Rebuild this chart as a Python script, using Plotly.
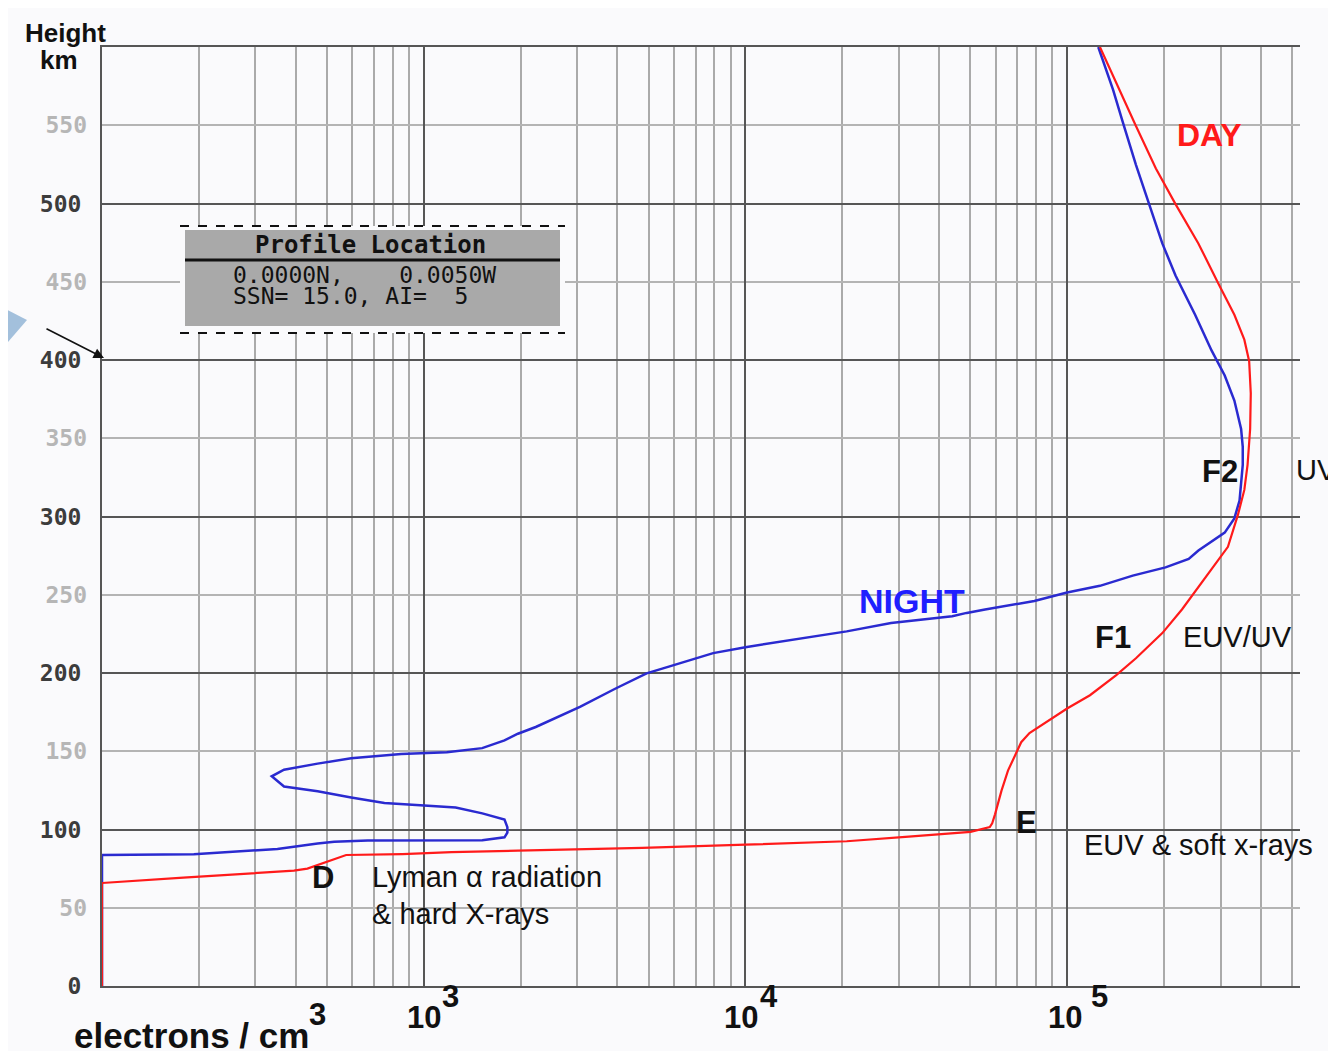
import math
import plotly.graph_objects as go

# ---------------- data ----------------
day_density = [100, 100, 179, 290, 395, 435, 503, 574, 859, 1220, 1963, 4780, 10000,
               20650, 32200, 50100, 57500, 58500, 59700, 62500, 65500, 68700, 72000,
               76400, 88900, 100000, 117800, 142200, 163700, 197700, 227500, 261800,
               294400, 316200, 339600, 355600, 363900, 370700, 372400, 368100, 355600,
               331100, 294400, 255900, 217300, 188800, 163700, 142200, 126500]
day_height = [0, 65.8, 69.2, 71.8, 73.7, 75, 79.7, 83.7, 84.3, 85.5, 86.5, 88.2, 90.3,
              92.5, 95.5, 98.5, 101.5, 104, 109.7, 124.7, 137.6, 147.2, 155.8,
              161.6, 170.2, 177.3, 185.8, 198.7, 209.4, 225.5, 240.6, 257.7,
              272.7, 280.6, 301, 317, 333, 355.9, 378.7, 399.2, 413,
              428.9, 449.4, 474.5, 499.6, 522.4, 549.5, 577.2, 600]

night_density = [100, 100, 193, 290, 351, 468, 527, 670, 1220, 1521, 1783, 1820, 1820,
                 1783, 1521, 1257, 975, 755, 595, 468, 368, 337, 368, 468, 595, 851,
                 1180, 1520, 1783, 1963, 2230, 3060, 3950, 4930, 5780, 7940, 10000,
                 15100, 20650, 28370, 43950, 48750, 55600, 79100, 100000, 126500,
                 160000, 202300, 238800, 256000, 309000, 331100, 343600, 351600,
                 351600, 347500, 331100, 309000, 281200, 250000, 217300, 197700,
                 179900, 163700, 148900, 139000, 125000]
night_height = [0, 83.7, 84.2, 86.3, 87.6, 91, 92.1, 92.9, 93.4, 93.2, 95, 98, 101.5,
                106.4, 110.3, 114, 115.5, 117, 120.5, 124.5, 127.5, 134, 138.2, 142.1,
                145.5, 148.2, 149.4, 152, 156.9, 161.2, 165.5, 178.3, 190.1, 199.8,
                204.1, 212.7, 216.5, 222.3, 226.6, 232, 236.3, 238.4, 240.6, 246,
                251.4, 255.7, 262.2, 267.5, 272.9, 278.3, 289.7, 298.8, 310.2, 333,
                344.5, 355.9, 374.1, 390.1, 406.1, 428.9, 454, 474.5, 499.6, 524.7,
                552.1, 572.6, 600]

height_major_ticks = [0, 100, 200, 300, 400, 500]
height_minor_ticks = [50, 150, 250, 350, 450, 550]
decade_ticks = [100, 1000, 10000, 100000]
decade_exponents = ["3", "4", "5"]
decade_label_values = [1000, 10000, 100000]

profile_title = "Profile Location"
profile_line1 = "0.0000N,    0.0050W"
profile_line2 = "SSN= 15.0, AI=  5"

# ---------------------------------------------------------------------------
minor_x = [m * d for d in [100, 1000, 10000, 100000] for m in range(2, 10) if m * d <= 500000]

BG = "#fafafc"
DARK_GRID = "#565656"
LIGHT_GRID = "#aaaaaa"
SANS = "Liberation Sans, Arial, sans-serif"
MONO = "DejaVu Sans Mono, monospace"

fig = go.Figure()
fig.add_trace(go.Scatter(x=night_density, y=night_height, mode="lines",
                         line=dict(color="#2a2ad0", width=2.5), yaxis="y", name="NIGHT"))
fig.add_trace(go.Scatter(x=day_density, y=day_height, mode="lines",
                         line=dict(color="#ff1a1a", width=2.2), yaxis="y2", name="DAY"))

# the page body has an 8px margin, so the figure is offset by 8px in the window
fig.update_layout(
    width=1328, height=1043, autosize=False,
    margin=dict(l=94, r=36, t=39, b=65, pad=0),
    paper_bgcolor=BG, plot_bgcolor=BG,
    showlegend=False,
    xaxis=dict(type="log", range=[2, 5.724], tickvals=decade_ticks, showticklabels=False,
               ticks="", showgrid=True, gridcolor=DARK_GRID, gridwidth=2,
               minor=dict(tickvals=minor_x, showgrid=True, gridcolor=LIGHT_GRID, gridwidth=2, ticks=""),
               showline=True, linecolor=DARK_GRID, linewidth=2, mirror=True, zeroline=False),
    yaxis=dict(range=[0, 600], tickvals=height_major_ticks,
               ticktext=[str(v) for v in height_major_ticks], ticks="",
               ticklabelstandoff=14,
               tickfont=dict(family=MONO, size=23, color="#3c3c3c", weight="bold"),
               showgrid=True, gridcolor=DARK_GRID, gridwidth=2,
               minor=dict(tickvals=height_minor_ticks, showgrid=True, gridcolor="#b4b4b4", gridwidth=2, ticks=""),
               showline=True, linecolor=DARK_GRID, linewidth=2, zeroline=False),
    yaxis2=dict(range=[0, 600], overlaying="y", side="left", anchor="x",
                tickvals=height_minor_ticks, ticktext=[str(v) for v in height_minor_ticks],
                ticks="", ticklabelstandoff=14,
                tickfont=dict(family=MONO, size=23, color="#b6b6b6", weight="bold"),
                showgrid=False, showline=False, zeroline=False),
)

# helpers converting reference-picture pixels to paper coordinates of the plot area
def px2paper_x(px):
    return (px - 102) / 1198.0

def py2paper_y(py):
    return (986 - py) / 939.0

shapes = []
# profile location box
shapes.append(dict(type="rect", xref="paper", yref="paper", x0=px2paper_x(180), x1=px2paper_x(565),
                   y0=py2paper_y(333), y1=py2paper_y(226), fillcolor=BG, line=dict(width=0), layer="above"))
for yy in (226, 333):
    shapes.append(dict(type="line", xref="paper", yref="paper", x0=px2paper_x(180), x1=px2paper_x(565),
                       y0=py2paper_y(yy), y1=py2paper_y(yy), line=dict(color="#111111", width=2, dash="dash")))
shapes.append(dict(type="rect", xref="paper", yref="paper", x0=px2paper_x(185), x1=px2paper_x(560),
                   y0=py2paper_y(326), y1=py2paper_y(230), fillcolor="#a9a9a9", line=dict(width=0)))
shapes.append(dict(type="line", xref="paper", yref="paper", x0=px2paper_x(185), x1=px2paper_x(560),
                   y0=py2paper_y(260), y1=py2paper_y(260), line=dict(color="#111111", width=3)))
# decorative logo fragment at far left
shapes.append(dict(type="path", xref="paper", yref="paper",
                   path=f"M {px2paper_x(0)},{py2paper_y(306)} L {px2paper_x(27)},{py2paper_y(320)} "
                        f"L {px2paper_x(8)},{py2paper_y(342)} L {px2paper_x(0)},{py2paper_y(346)} Z",
                   fillcolor="#a3c0dc", line=dict(width=0)))
fig.update_layout(shapes=shapes)

ann = []
def lab(text, xlog, y, size, color="#111111", bold=True, xanchor="center", family=SANS):
    ann.append(dict(text=text, x=xlog, y=y, xref="x", yref="y", showarrow=False,
                    xanchor=xanchor, yanchor="middle",
                    font=dict(family=family, size=size, color=color, weight="bold" if bold else "normal")))

lab("DAY", 5.444, 543.8, 32, color="#ff1a1a")
lab("NIGHT", 4.518, 246, 34, color="#1f1fff")
lab("F2", 5.475, 329, 31)
lab("UV", 5.705, 329.7, 29, bold=False, xanchor="left")
lab("F1", 5.143, 222.4, 31)
lab("EUV/UV", 5.354, 223, 29, bold=False, xanchor="left")
lab("E", 4.875, 104.2, 31)
lab("EUV &amp; soft x-rays", 5.046, 90.1, 29, bold=False, xanchor="left")
lab("D", 2.687, 69.6, 31)
lab("Lyman α radiation", 2.833, 69.6, 29, bold=False, xanchor="left")
lab("&amp; hard X-rays", 2.833, 46, 29, bold=False, xanchor="left")

# x decade labels 10^n
for val, ex, sh10, shex in zip(decade_label_values, decade_exponents, [0, -4, -2], [27, 24, 32]):
    ann.append(dict(text="10", x=math.log10(val), y=py2paper_y(1017), xref="x", yref="paper",
                    xshift=sh10, showarrow=False, xanchor="center", yanchor="middle",
                    font=dict(family=SANS, size=31, color="#111111", weight="bold")))
    ann.append(dict(text=ex, x=math.log10(val), y=py2paper_y(997), xref="x", yref="paper",
                    xshift=shex, showarrow=False, xanchor="center", yanchor="middle",
                    font=dict(family=SANS, size=31, color="#111111", weight="bold")))

# axis titles
ann.append(dict(text="electrons / cm", x=px2paper_x(72), y=py2paper_y(1035), xref="paper", yref="paper",
                showarrow=False, xanchor="left", yanchor="middle",
                font=dict(family=SANS, size=35, color="#111111", weight="bold")))
ann.append(dict(text="3", x=px2paper_x(317), y=py2paper_y(1015), xref="paper", yref="paper",
                showarrow=False, xanchor="center", yanchor="middle",
                font=dict(family=SANS, size=31, color="#111111", weight="bold")))
ann.append(dict(text="Height", x=px2paper_x(65), y=py2paper_y(33), xref="paper", yref="paper",
                showarrow=False, xanchor="center", yanchor="middle",
                font=dict(family=SANS, size=26, color="#111111", weight="bold")))
ann.append(dict(text="km", x=px2paper_x(59), y=py2paper_y(60), xref="paper", yref="paper",
                showarrow=False, xanchor="center", yanchor="middle",
                font=dict(family=SANS, size=26, color="#111111", weight="bold")))

# profile box text
ann.append(dict(text=profile_title.replace(" ", "\u00a0"), x=px2paper_x(370), y=py2paper_y(245),
                xref="paper", yref="paper", showarrow=False, xanchor="center", yanchor="middle",
                font=dict(family=MONO, size=24, color="#111111", weight="bold")))
ann.append(dict(text=profile_line1.replace(" ", "\u00a0"), x=px2paper_x(231), y=py2paper_y(275),
                xref="paper", yref="paper", showarrow=False, xanchor="left", yanchor="middle",
                font=dict(family=MONO, size=23, color="#111111", weight="normal")))
ann.append(dict(text=profile_line2.replace(" ", "\u00a0"), x=px2paper_x(231), y=py2paper_y(296),
                xref="paper", yref="paper", showarrow=False, xanchor="left", yanchor="middle",
                font=dict(family=MONO, size=23, color="#111111", weight="normal")))

# arrow pointing at the 400 km line
ann.append(dict(text="", x=px2paper_x(104), y=py2paper_y(358), xref="paper", yref="paper",
                ax=-59, ay=-30, showarrow=True, arrowhead=2, arrowsize=1.3, arrowwidth=1.6,
                arrowcolor="#111111"))

fig.update_layout(annotations=ann)
fig.write_html("out.html")
